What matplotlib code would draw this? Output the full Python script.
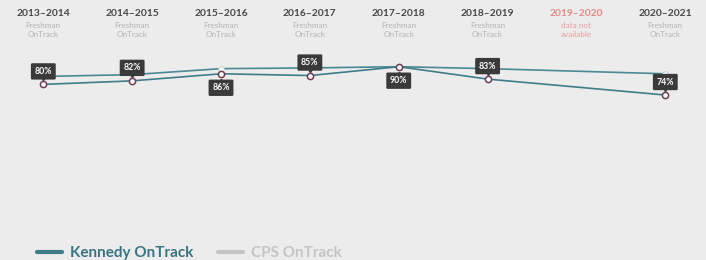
import matplotlib
matplotlib.use('Agg')
import matplotlib.pyplot as plt
from matplotlib.lines import Line2D
from matplotlib.transforms import ScaledTranslation

plt.rcParams['font.family'] = ['Lato', 'DejaVu Sans']

years = ['2013–2014', '2014–2015', '2015–2016', '2016–2017', '2017–2018',
         '2018–2019', '2019–2020', '2020–2021']
subs = ['Freshman\nOnTrack'] * 6 + ['data not\navailable'] + ['Freshman\nOnTrack']
# 2019-2020 has no data
kennedy = [80, 82, 86, 85, 90, 83, None, 74]
cps = [84.5, 85.5, 88.9, 89.3, 90, 88.9, None, 86]
label_pos = ['above', 'above', 'below', 'above', 'below', 'above', None, 'above']

bg = '#ececec'
teal = '#3e7c8a'
maroon = '#6e3c52'
boxc = '#3a3a3a'

fig = plt.figure(figsize=(7.06, 2.6), dpi=100, facecolor=bg)
ax = fig.add_axes([43.3 / 706, 34 / 260, 622 / 706, 177 / 260])
ax.set_facecolor(bg)
ax.set_xlim(0, 7)
ax.set_ylim(0, 100)
ax.axis('off')

kx = [i for i, v in enumerate(kennedy) if v is not None]
ky = [v for v in kennedy if v is not None]
cx = [i for i, v in enumerate(cps) if v is not None]
cy = [v for v in cps if v is not None]

ax.plot(cx, cy, color='#4a8895', lw=1.2, zorder=2, clip_on=False)
ax.plot(kx, ky, color=teal, lw=1.2, zorder=3, clip_on=False)
ax.scatter(cx, cy, s=16, facecolor='white', edgecolor='#d0d0d0', lw=0.8, zorder=4, clip_on=False)

# value boxes with small pointer
for i, v in enumerate(kennedy):
    if v is None:
        continue
    if label_pos[i] == 'above':
        off, tri, toff = 13, 'v', 6.0
    else:
        off, tri, toff = -14, '^', -7.0
    ax.plot([i], [v], marker=tri, ms=3.2, color=boxc, ls='none', zorder=4.5, clip_on=False,
            transform=ax.transData + ScaledTranslation(0, toff / 100, fig.dpi_scale_trans))
    ax.annotate('%d%%' % v, (i, v), xytext=(0, off * 0.72), textcoords='offset points',
                ha='center', va='center', fontsize=6.3, fontweight='bold', color='white',
                bbox=dict(boxstyle='round,pad=0.42,rounding_size=0.15', fc=boxc, ec='none'),
                zorder=5)

ax.scatter(kx, ky, s=20, facecolor='white', edgecolor=maroon, lw=1.1, zorder=6, clip_on=False)

# column headers
for i, (yr, sb) in enumerate(zip(years, subs)):
    xf = (43.3 + i * 622 / 7) / 706
    c1 = '#e58888' if sb.startswith('data') else '#474747'
    c2 = '#ea9a9a' if sb.startswith('data') else '#b3b3b3'
    fig.text(xf, 1 - 14 / 260, yr, ha='center', va='center', fontsize=7.4,
             fontweight='bold', color=c1)
    fig.text(xf, 1 - 30 / 260, sb, ha='center', va='center', fontsize=5.9,
             color=c2, linespacing=1.3)

# legend
fig.add_artist(Line2D([37 / 706, 62 / 706], [1 - 252 / 260] * 2, color=teal, lw=3,
                      solid_capstyle='round'))
fig.text(70 / 706, 1 - 253 / 260, 'Kennedy OnTrack', ha='left', va='center',
         fontsize=11, fontweight='bold', color='#3a7482')
fig.add_artist(Line2D([218 / 706, 243 / 706], [1 - 252 / 260] * 2, color='#c4c4c4', lw=3,
                      solid_capstyle='round'))
fig.text(251 / 706, 1 - 253 / 260, 'CPS OnTrack', ha='left', va='center',
         fontsize=11, fontweight='bold', color='#c4c4c4')

fig.savefig('out.png', dpi=100, facecolor=bg)
